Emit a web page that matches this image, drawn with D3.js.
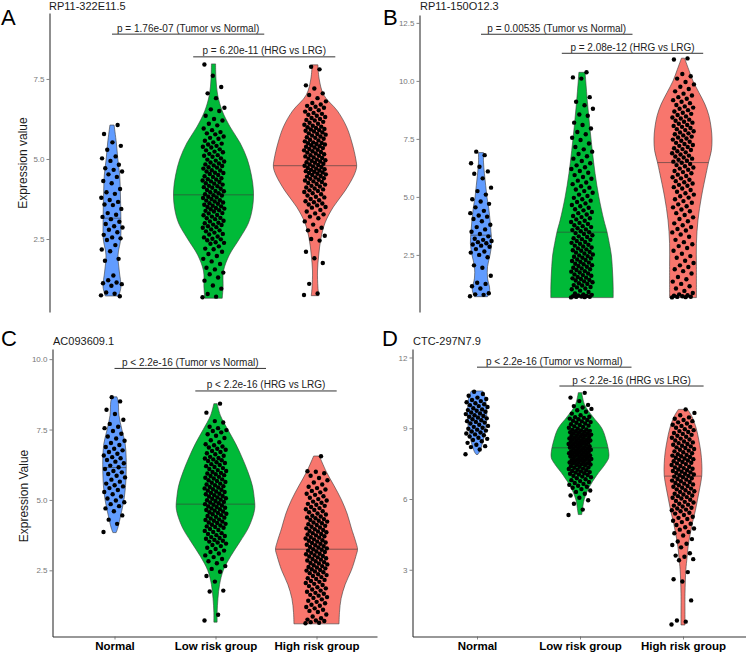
<!DOCTYPE html>
<html><head><meta charset="utf-8">
<script src="https://cdn.jsdelivr.net/npm/d3@7"></script>
<style>
body{margin:0;background:#fff}
svg{display:block}
text{font-family:"Liberation Sans",Arial,Helvetica,sans-serif}
</style>
</head><body>
<svg id="chart" width="746" height="652"></svg>
<script>
// ---------------- DATA ----------------
const categories = ["Normal", "Low risk group", "High risk group"];
const groupColors = ["#619CFF", "#00BA38", "#F8766D"];
const panelLetters = ["A", "B", "C", "D"];
const geneTitles = ["RP11-322E11.5", "RP11-150O12.3", "AC093609.1", "CTC-297N7.9"];
const yAxisTitles = ["Expression value", "", "Expression Value", ""];
const tickValuesA = [2.5, 5.0, 7.5];
const tickValuesB = [2.5, 5.0, 7.5, 10.0, 12.5];
const tickValuesC = [2.5, 5.0, 7.5, 10.0];
const tickValuesD = [3, 6, 9, 12];
const pLabelsA = ["p = 1.76e-07 (Tumor vs Normal)", "p = 6.20e-11 (HRG vs LRG)"];
const pLabelsB = ["p = 0.00535 (Tumor vs Normal)", "p = 2.08e-12 (HRG vs LRG)"];
const pLabelsC = ["p < 2.2e-16 (Tumor vs Normal)", "p < 2.2e-16 (HRG vs LRG)"];
const pLabelsD = ["p < 2.2e-16 (Tumor vs Normal)", "p < 2.2e-16 (HRG vs LRG)"];

// medians (Normal, Low, High)
const mediansA = [3.15, 3.88, 4.79];
const mediansB = [3.35, 3.48, 6.48];
const mediansC = [6.15, 4.85, 3.25];
const mediansD = [9.52, 8.17, 6.97];

// violin density profiles: [expression value, relative density]
const violA_normal = [[0.72,0.16],[1.0,0.215],[1.5,0.175],[2.0,0.145],[2.5,0.21],[3.0,0.215],[3.5,0.21],[4.0,0.20],[4.5,0.185],[5.0,0.14],[5.5,0.105],[6.06,0.05]];
const violA_low = [[0.65,0.21],[1.0,0.23],[1.5,0.24],[2.0,0.38],[2.5,0.62],[3.0,0.84],[3.5,0.94],[4.0,0.96],[4.5,0.91],[5.0,0.81],[5.5,0.64],[6.0,0.40],[6.5,0.21],[7.0,0.10],[7.5,0.06],[7.97,0.05]];
const violA_high = [[0.73,0.09],[1.0,0.07],[1.5,0.06],[2.0,0.09],[2.5,0.14],[3.0,0.24],[3.5,0.44],[4.0,0.72],[4.5,0.94],[4.75,1.0],[5.0,0.98],[5.5,0.89],[6.0,0.76],[6.5,0.54],[7.0,0.21],[7.5,0.10],[7.94,0.07]];

const violB_normal = [[0.70,0.21],[1.0,0.28],[1.5,0.21],[2.0,0.21],[2.5,0.29],[3.0,0.34],[3.5,0.32],[4.0,0.29],[4.5,0.25],[5.0,0.19],[5.5,0.15],[6.0,0.11],[6.5,0.08],[6.91,0.08]];
const violB_low = [[0.66,1.0],[1.0,1.0],[1.5,0.99],[2.0,0.97],[2.5,0.94],[3.0,0.875],[3.5,0.80],[4.0,0.70],[5.0,0.54],[6.0,0.42],[7.0,0.33],[8.0,0.25],[9.0,0.18],[10.0,0.12],[10.37,0.10]];
const violB_high = [[0.66,0.43],[1.0,0.43],[2.0,0.43],[3.0,0.43],[4.0,0.48],[5.0,0.59],[6.0,0.74],[6.5,0.82],[7.0,0.91],[7.5,0.93],[8.0,0.90],[8.5,0.83],[9.0,0.70],[9.5,0.51],[10.0,0.32],[10.5,0.18],[10.98,0.05]];

const violC_normal = [[3.84,0.04],[4.0,0.08],[4.5,0.16],[5.0,0.23],[5.5,0.27],[6.0,0.285],[6.5,0.285],[7.0,0.26],[7.5,0.18],[8.0,0.11],[8.5,0.09],[8.66,0.06]];
const violC_low = [[0.66,0.04],[1.0,0.04],[1.5,0.06],[2.0,0.10],[2.5,0.19],[3.0,0.37],[3.5,0.59],[4.0,0.80],[4.5,0.93],[4.75,0.96],[5.0,0.95],[5.5,0.90],[6.0,0.79],[6.5,0.65],[7.0,0.49],[7.5,0.30],[8.0,0.12],[8.42,0.04]];
const violC_high = [[0.6,0.55],[1.0,0.56],[1.5,0.60],[2.0,0.70],[2.5,0.85],[3.0,0.96],[3.25,1.0],[3.5,0.96],[4.0,0.85],[4.5,0.75],[5.0,0.61],[5.5,0.43],[6.0,0.24],[6.56,0.07]];

const violD_normal = [[7.89,0.03],[8.0,0.09],[8.5,0.22],[9.0,0.30],[9.5,0.34],[10.0,0.32],[10.3,0.29],[10.58,0.20]];
const violD_low = [[5.34,0.06],[5.5,0.08],[6.0,0.15],[6.5,0.32],[7.0,0.58],[7.5,0.89],[7.75,1.0],[8.0,1.0],[8.5,0.91],[9.0,0.76],[9.5,0.44],[10.0,0.16],[10.51,0.06]];
const violD_high = [[0.66,0.07],[1.0,0.07],[2.0,0.07],[3.0,0.10],[3.5,0.14],[4.0,0.18],[4.5,0.25],[5.0,0.33],[5.5,0.43],[6.0,0.51],[6.5,0.59],[7.0,0.655],[7.5,0.655],[8.0,0.62],[8.5,0.55],[9.0,0.46],[9.5,0.31],[9.8,0.16]];

// sample values
const ptsA_normal = [0.74,0.79,0.83,0.71,1.04,1.12,1.14,1.21,1.09,1.36,1.82,1.88,2.12,2.17,2.31,2.47,2.52,2.55,2.63,2.71,2.79,2.86,2.9,2.97,3.04,3.12,3.19,3.26,3.31,3.44,3.56,3.58,3.66,3.72,3.79,3.91,3.96,4.06,4.24,4.31,4.44,4.52,4.61,4.66,4.71,4.82,4.94,5.02,5.08,5.29,5.41,5.52,5.78,6.06];
const ptsA_low = [0.68,0.7,0.78,0.95,1.05,1.2,1.3,1.4,1.45,1.55,1.6,1.72,1.8,1.88,1.97,2.03,2.1,2.18,2.2,2.27,2.35,2.38,2.4,2.46,2.49,2.51,2.55,2.58,2.64,2.66,2.7,2.74,2.77,2.8,2.85,2.87,2.9,2.94,2.95,2.99,3.01,3.05,3.07,3.12,3.15,3.16,3.2,3.24,3.25,3.3,3.31,3.36,3.38,3.4,3.43,3.45,3.47,3.5,3.52,3.54,3.57,3.6,3.62,3.64,3.67,3.7,3.71,3.75,3.78,3.8,3.82,3.86,3.87,3.9,3.93,3.96,3.99,4.0,4.03,4.07,4.1,4.12,4.15,4.16,4.2,4.23,4.24,4.28,4.3,4.33,4.36,4.37,4.4,4.44,4.46,4.5,4.53,4.56,4.57,4.61,4.64,4.65,4.7,4.73,4.74,4.78,4.8,4.83,4.86,4.89,4.92,4.95,4.98,5.02,5.07,5.1,5.12,5.16,5.21,5.23,5.27,5.3,5.36,5.38,5.41,5.45,5.48,5.52,5.57,5.63,5.66,5.7,5.77,5.8,5.84,5.9,5.95,6.05,6.1,6.2,6.25,6.35,6.5,6.55,6.6,6.9,7.05,7.25,7.6,7.95];
const ptsA_high = [0.75,0.8,1.1,1.75,1.9,2.1,2.45,2.5,2.6,2.75,2.77,2.85,2.95,3.05,3.15,3.2,3.27,3.3,3.36,3.41,3.48,3.5,3.55,3.58,3.61,3.65,3.68,3.71,3.75,3.8,3.82,3.86,3.9,3.93,3.97,4.0,4.02,4.05,4.08,4.11,4.14,4.16,4.2,4.22,4.25,4.28,4.3,4.33,4.35,4.38,4.4,4.42,4.45,4.47,4.5,4.52,4.54,4.56,4.58,4.6,4.62,4.64,4.66,4.68,4.7,4.72,4.75,4.77,4.79,4.81,4.83,4.85,4.88,4.9,4.92,4.94,4.96,4.98,5.01,5.03,5.05,5.08,5.1,5.12,5.15,5.17,5.2,5.22,5.24,5.27,5.29,5.31,5.34,5.36,5.38,5.4,5.43,5.45,5.47,5.49,5.5,5.52,5.55,5.58,5.6,5.63,5.66,5.68,5.7,5.73,5.76,5.78,5.8,5.83,5.86,5.88,5.9,5.92,5.94,5.97,5.99,6.01,6.04,6.07,6.1,6.13,6.16,6.2,6.22,6.25,6.28,6.31,6.35,6.38,6.41,6.44,6.48,6.52,6.56,6.6,6.63,6.66,6.7,6.75,6.8,6.9,7.0,7.05,7.2,7.3,7.8,7.88];

const ptsB_normal = [0.72,0.78,0.8,0.85,1.05,1.15,1.25,1.3,1.6,1.95,2.05,2.4,2.5,2.6,2.65,2.75,2.85,2.9,2.95,3.0,3.05,3.1,3.15,3.2,3.3,3.4,3.5,3.6,3.7,3.8,3.95,4.05,4.15,4.2,4.3,4.4,4.55,4.7,4.8,4.9,5.1,5.25,5.4,5.8,6.0,6.1,6.3,6.45,6.8,6.95];
const ptsB_low = [0.67,0.68,0.69,0.7,0.71,0.72,0.73,0.75,0.78,0.8,0.84,0.9,0.96,1.02,1.05,1.1,1.12,1.18,1.2,1.25,1.28,1.32,1.36,1.4,1.42,1.46,1.49,1.52,1.55,1.6,1.63,1.66,1.7,1.74,1.78,1.8,1.85,1.88,1.92,1.95,1.99,2.02,2.06,2.1,2.12,2.17,2.2,2.24,2.28,2.3,2.35,2.38,2.42,2.45,2.48,2.52,2.56,2.6,2.63,2.68,2.7,2.74,2.78,2.82,2.86,2.9,2.94,2.98,3.02,3.06,3.1,3.15,3.18,3.22,3.27,3.3,3.35,3.4,3.44,3.48,3.52,3.57,3.6,3.65,3.7,3.74,3.78,3.83,3.88,3.92,3.97,4.03,4.08,4.13,4.18,4.24,4.3,4.35,4.42,4.47,4.53,4.6,4.65,4.72,4.78,4.84,4.9,4.96,5.04,5.1,5.18,5.25,5.32,5.4,5.46,5.55,5.62,5.7,5.78,5.86,5.94,6.04,6.12,6.2,6.28,6.36,6.45,6.55,6.65,6.75,6.85,6.95,7.05,7.15,7.3,7.45,7.55,7.7,7.8,7.95,8.1,8.2,8.5,8.55,8.8,8.95,9.1,9.3,10.1,10.15,10.37];
const ptsB_high = [0.67,0.68,0.69,0.7,0.72,0.74,0.76,0.8,0.86,0.95,1.05,1.15,1.25,1.35,1.45,1.55,1.7,1.8,1.88,1.98,2.05,2.15,2.25,2.38,2.45,2.55,2.68,2.8,2.88,2.96,3.05,3.15,3.28,3.38,3.47,3.55,3.62,3.7,3.78,3.86,3.95,4.05,4.12,4.22,4.3,4.38,4.46,4.55,4.6,4.68,4.75,4.82,4.9,4.97,5.03,5.1,5.16,5.22,5.3,5.36,5.42,5.48,5.52,5.58,5.63,5.68,5.74,5.8,5.85,5.9,5.96,6.02,6.07,6.12,6.17,6.22,6.27,6.32,6.37,6.42,6.47,6.52,6.56,6.6,6.65,6.7,6.74,6.78,6.83,6.88,6.92,6.97,7.02,7.06,7.1,7.15,7.2,7.24,7.28,7.33,7.38,7.42,7.47,7.52,7.56,7.6,7.65,7.7,7.74,7.78,7.83,7.88,7.92,7.97,8.02,8.06,8.1,8.15,8.2,8.24,8.28,8.33,8.38,8.42,8.47,8.53,8.58,8.63,8.68,8.74,8.8,8.85,8.9,8.96,9.04,9.1,9.17,9.23,9.3,9.37,9.45,9.55,9.65,9.75,9.85,9.95,10.1,10.2,10.3,10.92,10.97];

const ptsC_normal = [3.86,4.15,4.3,4.45,4.6,4.7,4.78,4.85,4.92,4.98,5.05,5.12,5.2,5.28,5.35,5.42,5.48,5.52,5.58,5.65,5.72,5.8,5.86,5.92,5.98,6.03,6.1,6.16,6.22,6.3,6.36,6.42,6.48,6.52,6.58,6.64,6.7,6.76,6.82,6.88,6.95,7.02,7.1,7.18,7.25,7.35,7.45,7.55,7.6,7.7,7.85,8.05,8.2,8.5,8.65];
const ptsC_low = [0.72,0.92,1.75,1.78,2.1,2.3,2.45,2.55,2.65,2.75,2.82,2.9,2.97,3.03,3.1,3.15,3.2,3.26,3.3,3.36,3.4,3.45,3.49,3.52,3.55,3.58,3.62,3.65,3.68,3.72,3.75,3.79,3.82,3.86,3.9,3.93,3.97,4.01,4.04,4.06,4.09,4.12,4.15,4.18,4.2,4.23,4.26,4.29,4.31,4.34,4.37,4.4,4.43,4.46,4.49,4.51,4.54,4.56,4.59,4.62,4.64,4.67,4.7,4.72,4.75,4.77,4.8,4.83,4.85,4.88,4.91,4.93,4.96,4.99,5.01,5.04,5.06,5.09,5.12,5.14,5.17,5.2,5.22,5.25,5.28,5.3,5.33,5.36,5.38,5.41,5.44,5.46,5.49,5.52,5.55,5.58,5.61,5.64,5.67,5.7,5.73,5.76,5.79,5.82,5.85,5.88,5.91,5.94,5.96,5.99,6.03,6.06,6.1,6.13,6.17,6.2,6.24,6.27,6.31,6.34,6.38,6.41,6.44,6.47,6.49,6.53,6.57,6.62,6.66,6.7,6.74,6.78,6.82,6.86,6.9,6.94,6.98,7.05,7.12,7.2,7.28,7.33,7.4,7.45,7.48,7.55,7.6,7.75,7.8,8.1,8.42];
const ptsC_high = [0.62,0.64,0.66,0.7,0.72,0.75,0.8,0.86,0.93,1.02,1.06,1.1,1.15,1.2,1.24,1.28,1.33,1.38,1.42,1.47,1.52,1.55,1.6,1.63,1.67,1.7,1.74,1.78,1.82,1.86,1.9,1.94,1.98,2.02,2.05,2.09,2.12,2.16,2.19,2.22,2.26,2.3,2.33,2.36,2.4,2.43,2.46,2.49,2.51,2.54,2.57,2.6,2.62,2.65,2.68,2.71,2.74,2.76,2.79,2.82,2.85,2.88,2.9,2.93,2.96,2.99,3.01,3.04,3.07,3.09,3.12,3.15,3.17,3.2,3.23,3.25,3.28,3.31,3.33,3.36,3.39,3.41,3.44,3.47,3.49,3.52,3.55,3.57,3.6,3.63,3.66,3.68,3.71,3.74,3.77,3.79,3.82,3.85,3.88,3.9,3.93,3.96,3.99,4.02,4.05,4.08,4.11,4.14,4.17,4.2,4.23,4.26,4.29,4.32,4.35,4.38,4.41,4.44,4.48,4.52,4.56,4.6,4.64,4.67,4.71,4.75,4.79,4.83,4.86,4.9,4.94,4.98,5.03,5.08,5.13,5.18,5.22,5.27,5.32,5.37,5.42,5.47,5.55,5.62,5.7,5.78,5.86,5.95,6.0,6.02,6.55];

const ptsD_normal = [7.9,8.1,8.2,8.24,8.3,8.38,8.45,8.5,8.55,8.6,8.65,8.7,8.74,8.78,8.82,8.86,8.9,8.94,8.98,9.02,9.06,9.1,9.15,9.2,9.24,9.27,9.3,9.34,9.38,9.42,9.45,9.49,9.52,9.55,9.6,9.63,9.67,9.7,9.74,9.77,9.8,9.85,9.9,9.94,9.98,10.02,10.06,10.1,10.15,10.2,10.24,10.3,10.38,10.45,10.55];
const ptsD_low = [5.32,5.55,5.8,5.95,6.05,6.15,6.22,6.3,6.36,6.42,6.48,6.52,6.56,6.6,6.64,6.68,6.72,6.76,6.8,6.84,6.88,6.92,6.95,6.98,7.02,7.04,7.07,7.09,7.12,7.14,7.17,7.19,7.22,7.24,7.27,7.29,7.32,7.34,7.37,7.39,7.42,7.44,7.46,7.48,7.5,7.51,7.53,7.55,7.57,7.59,7.61,7.63,7.64,7.66,7.68,7.7,7.72,7.74,7.76,7.78,7.8,7.81,7.83,7.85,7.87,7.89,7.91,7.92,7.94,7.96,7.98,7.99,8.01,8.03,8.05,8.07,8.09,8.11,8.13,8.14,8.16,8.18,8.2,8.22,8.24,8.26,8.28,8.3,8.31,8.33,8.35,8.37,8.39,8.41,8.42,8.44,8.46,8.48,8.49,8.51,8.53,8.55,8.57,8.59,8.61,8.63,8.65,8.67,8.69,8.71,8.73,8.75,8.77,8.79,8.81,8.83,8.85,8.87,8.89,8.91,8.93,8.95,8.98,9.02,9.05,9.08,9.11,9.14,9.17,9.2,9.23,9.26,9.29,9.32,9.35,9.38,9.41,9.44,9.47,9.49,9.55,9.62,9.7,9.76,9.82,9.88,9.94,9.99,10.15,10.3,10.5];
const ptsD_high = [0.68,0.8,0.85,1.7,2.5,2.6,2.9,3.4,3.45,3.55,3.6,3.7,3.95,4.05,4.1,4.2,4.3,4.45,4.55,4.6,4.7,4.75,4.8,4.9,4.95,5.02,5.08,5.15,5.2,5.25,5.32,5.38,5.42,5.48,5.52,5.55,5.6,5.63,5.68,5.72,5.76,5.8,5.85,5.88,5.92,5.97,6.02,6.05,6.08,6.12,6.15,6.19,6.22,6.26,6.3,6.33,6.37,6.41,6.44,6.48,6.52,6.55,6.58,6.62,6.65,6.68,6.72,6.75,6.78,6.82,6.85,6.88,6.92,6.95,6.98,7.01,7.04,7.07,7.1,7.13,7.16,7.19,7.22,7.25,7.28,7.31,7.34,7.37,7.4,7.44,7.48,7.51,7.54,7.57,7.6,7.63,7.66,7.69,7.72,7.75,7.78,7.81,7.84,7.87,7.9,7.94,7.98,8.02,8.05,8.09,8.12,8.16,8.19,8.23,8.26,8.3,8.33,8.37,8.4,8.44,8.48,8.52,8.56,8.6,8.64,8.68,8.72,8.76,8.8,8.84,8.88,8.92,8.96,9.02,9.06,9.1,9.15,9.2,9.25,9.3,9.35,9.4,9.46,9.55,9.65,9.8];

// ---------------- LAYOUT ----------------
const panels = [
  {letter: panelLetters[0], title: geneTitles[0], yTitle: yAxisTitles[0], ticks: tickValuesA, fmt: d3.format(".1f"),
   letterPos: [1, 25], titlePos: [49, 10], yTitlePos: [23, 163],
   axisX: 49.5, yDomain: [0.22, 9.56], yRange: [312, 13], centers: [112, 315], maxHW: 41.6, jitter: 11,
   profiles: [violA_normal, violA_low, violA_high], points: [ptsA_normal, ptsA_low, ptsA_high], medians: mediansA,
   pLabels: pLabelsA, pLevels: [8.9, 8.19], xAxis: false},
  {letter: panelLetters[1], title: geneTitles[1], yTitle: yAxisTitles[1], ticks: tickValuesB, fmt: d3.format(".1f"),
   letterPos: [383, 25], titlePos: [420, 10], yTitlePos: [0, 0],
   axisX: 419.5, yDomain: [0.04, 12.84], yRange: [312, 15], centers: [481, 683], maxHW: 31.2, jitter: 11,
   profiles: [violB_normal, violB_low, violB_high], points: [ptsB_normal, ptsB_low, ptsB_high], medians: mediansB,
   pLabels: pLabelsB, pLevels: [12.01, 11.19], xAxis: false},
  {letter: panelLetters[2], title: geneTitles[2], yTitle: yAxisTitles[2], ticks: tickValuesC, fmt: d3.format(".1f"),
   letterPos: [1, 346], titlePos: [53, 345], yTitlePos: [24, 496],
   axisX: 52.5, yDomain: [0.15, 10.36], yRange: [636.5, 349], centers: [114.5, 316.5], maxHW: 41, jitter: 11,
   profiles: [violC_normal, violC_low, violC_high], points: [ptsC_normal, ptsC_low, ptsC_high], medians: mediansC,
   pLabels: pLabelsC, pLevels: [9.67, 8.87], xAxis: true, xEnd: 377},
  {letter: panelLetters[3], title: geneTitles[3], yTitle: yAxisTitles[3], ticks: tickValuesD, fmt: d3.format("d"),
   letterPos: [382, 346], titlePos: [413, 345], yTitlePos: [0, 0],
   axisX: 412.5, yDomain: [0.17, 12.36], yRange: [636.5, 349], centers: [477, 683], maxHW: 28.7, jitter: 11.5,
   profiles: [violD_normal, violD_low, violD_high], points: [ptsD_normal, ptsD_low, ptsD_high], medians: mediansD,
   pLabels: pLabelsD, pLevels: [11.59, 10.79], xAxis: true, xEnd: 746}
];

// ---------------- DRAW ----------------
const svg = d3.select("#chart");
svg.append("rect").attr("width", 746).attr("height", 652).attr("fill", "#fff");

function drawPanel(p) {
  const g = svg.append("g");
  const y = d3.scaleLinear().domain(p.yDomain).range(p.yRange);
  const x = d3.scaleLinear().domain([0, 2]).range(p.centers);
  const w = d3.scaleLinear().domain([0, 1]).range([0, p.maxHW]);

  // violins
  p.profiles.forEach((prof, i) => {
    const cx = x(i);
    const area = d3.area()
      .y(d => y(d[0]))
      .x0(d => cx - w(d[1]))
      .x1(d => cx + w(d[1]))
      .curve(d3.curveCatmullRom.alpha(0.5));
    g.append("path").attr("d", area(prof))
      .attr("fill", groupColors[i]).attr("stroke", "#3a3a3a").attr("stroke-width", 0.6);
    const dens = d3.scaleLinear().domain(prof.map(d => d[0])).range(prof.map(d => d[1]));
    const m = p.medians[i];
    const hw = w(dens(m));
    g.append("line")
      .attr("x1", cx - hw).attr("x2", cx + hw)
      .attr("y1", y(m)).attr("y2", y(m))
      .attr("stroke", "#3a3a3a").attr("stroke-width", 0.6);
  });

  // jittered points
  p.points.forEach((arr, i) => {
    g.append("g").selectAll("circle").data(arr).join("circle")
      .attr("cx", (v, j) => x(i) + (((j * 0.6180339887) % 1) - 0.5) * 2 * p.jitter)
      .attr("cy", v => y(v))
      .attr("r", 2.2)
      .attr("fill", "#000");
  });

  // y axis
  const ax = g.append("g").attr("transform", `translate(${p.axisX},0)`)
    .call(d3.axisLeft(y).tickValues(p.ticks).tickFormat(p.fmt).tickSize(3).tickSizeOuter(0).tickPadding(2));
  ax.select(".domain").attr("stroke", "#333").attr("stroke-width", 1.1);
  ax.selectAll(".tick line").attr("stroke", "#666").attr("stroke-width", 0.8);
  ax.selectAll(".tick text").attr("fill", "#777").attr("font-size", 8)
    .attr("font-family", "'Liberation Sans', Arial, sans-serif");

  // x axis
  if (p.xAxis) {
    const iLeft = x.invert(p.axisX), iRight = x.invert(p.xEnd);
    const xa = d3.scaleLinear().domain([iLeft, iRight]).range([p.axisX, p.xEnd]);
    const bx = g.append("g").attr("transform", `translate(0,${p.yRange[0]})`)
      .call(d3.axisBottom(xa).tickValues([0, 1, 2]).tickFormat(i => categories[i]).tickSize(3).tickSizeOuter(0).tickPadding(2));
    bx.select(".domain").attr("stroke", "#333").attr("stroke-width", 1.1);
    bx.selectAll(".tick line").attr("stroke", "#666").attr("stroke-width", 0.8);
    bx.selectAll(".tick text").attr("fill", "#000").attr("font-size", 11.5).attr("font-weight", "bold")
      .attr("font-family", "'Liberation Sans', Arial, sans-serif");
  }

  // comparison brackets
  const spans = [[0, 1.5], [0.8, 2.2]];
  spans.forEach((s, k) => {
    const yy = y(p.pLevels[k]);
    g.append("line").attr("x1", x(s[0])).attr("x2", x(s[1])).attr("y1", yy).attr("y2", yy)
      .attr("stroke", "#333").attr("stroke-width", 1);
    g.append("text").attr("x", (x(s[0]) + x(s[1])) / 2).attr("y", yy - 2.5)
      .attr("text-anchor", "middle").attr("font-size", 10).attr("fill", "#222").text(p.pLabels[k]);
  });

  // titles
  g.append("text").attr("x", p.letterPos[0]).attr("y", p.letterPos[1]).attr("font-size", 22).attr("fill", "#000").text(p.letter);
  g.append("text").attr("x", p.titlePos[0]).attr("y", p.titlePos[1]).attr("font-size", 11).attr("fill", "#1a1a1a").text(p.title);
  if (p.yTitle) {
    g.append("text").attr("transform", `translate(${p.yTitlePos[0]},${p.yTitlePos[1]}) rotate(-90)`)
      .attr("text-anchor", "middle").attr("dy", "0.35em").attr("font-size", 12).attr("fill", "#1a1a1a").text(p.yTitle);
  }
}

panels.forEach(drawPanel);
</script>
</body></html>
